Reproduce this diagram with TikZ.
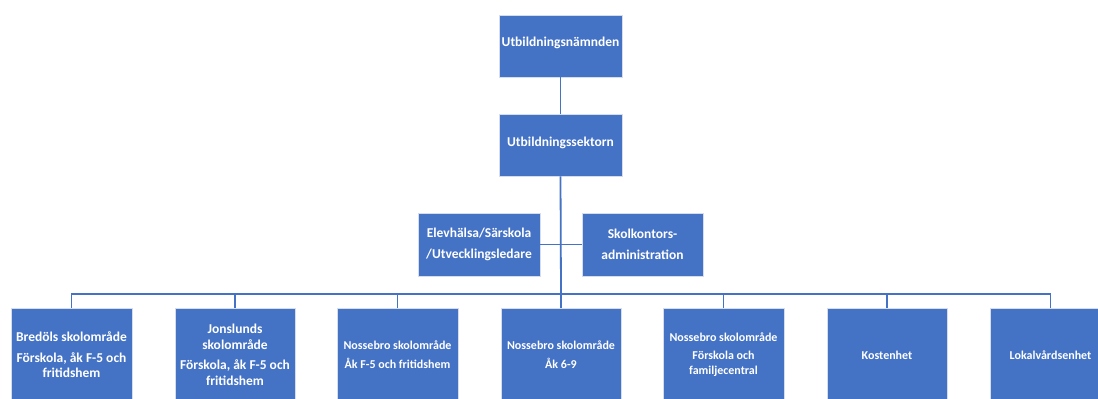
\documentclass[tikz,border=0pt]{standalone}
\usepackage{fontspec}
\setmainfont{Carlito}
\definecolor{obl}{HTML}{4472C4}
\definecolor{bord}{HTML}{D5DCEA}
\tikzset{
  orgbox/.style={fill=obl, draw=bord, line width=0.8pt, text=white, align=center,
    font=\bfseries\fontsize{13.5}{15.5}\selectfont, inner sep=1pt},
  smallbox/.style={orgbox, font=\bfseries\fontsize{12}{15}\selectfont},
  conn/.style={draw=obl, line width=1.8pt}
}
\begin{document}
\begin{tikzpicture}[x=1pt,y=-1pt]
\useasboundingbox (0,0) rectangle (1098,399);
\clip (0,0) rectangle (1098,399);
\fill[white] (0,0) rectangle (1098,399);

% top boxes
\node[orgbox, minimum width=123pt, minimum height=62pt] (top) at (560.5,46) {};
\node[orgbox, minimum width=123pt, minimum height=62pt] (sek) at (560.5,145) {};
\node[text=white, font=\bfseries\fontsize{13.5}{15.5}\selectfont] (toptxt) at (top.center) [yshift=3.5pt] {Utbildningsnämnden};
\node[text=white, font=\bfseries\fontsize{13.5}{15.5}\selectfont] (sektxt) at (sek.center) [yshift=2pt] {Utbildningssektorn};

% staff boxes
\node[orgbox, minimum width=122pt, minimum height=63pt] (elev) at (479,244.5) {Elevhälsa/Särskola\\[6pt]/Utvecklingsledare};
\node[orgbox, minimum width=121pt, minimum height=63pt] (adm) at (642.5,244.5) {Skolkontors-\\[5pt]administration};

% bottom boxes
\node[orgbox, minimum width=121pt, minimum height=94pt] (b1) at (71.5,355) {Bredöls skolområde\\[5pt]Förskola, åk F-5 och\\fritidshem};
\node[orgbox, minimum width=120pt, minimum height=94pt] (b2) at (235,355) {Jonslunds\\skolområde\\[5pt]Förskola, åk F-5 och\\fritidshem};
\node[smallbox, minimum width=121pt, minimum height=94pt] (b3) at (397.5,355) {Nossebro skolområde\\[4pt]Åk F-5 och fritidshem};
\node[smallbox, minimum width=120pt, minimum height=94pt] (b4) at (561,355) {Nossebro skolområde\\[4pt]Åk 6-9};
\node[smallbox, minimum width=121pt, minimum height=94pt] (b5) at (723.5,355) {Nossebro skolområde\\[3pt]Förskola och\\familjecentral};
\node[smallbox, minimum width=120pt, minimum height=94pt] (b6) at (887,355) {Kostenhet};
\node[smallbox, minimum width=121pt, minimum height=94pt] (b7) at (1050.5,355) {Lokalvårdsenhet};

% connectors
\coordinate (bus) at (561,294);
\draw[conn] (top.south) -- (sek.north);
\draw[conn] (sek.south) -- (bus);
\draw[conn] (elev.east) -- (adm.west);
\draw[conn] (b1.north) |- (bus) -| (b7.north);
\foreach \n in {b2,b3,b4,b5,b6} {
  \draw[conn] (bus -| \n.north) -- (\n.north);
}
\end{tikzpicture}
\end{document}
